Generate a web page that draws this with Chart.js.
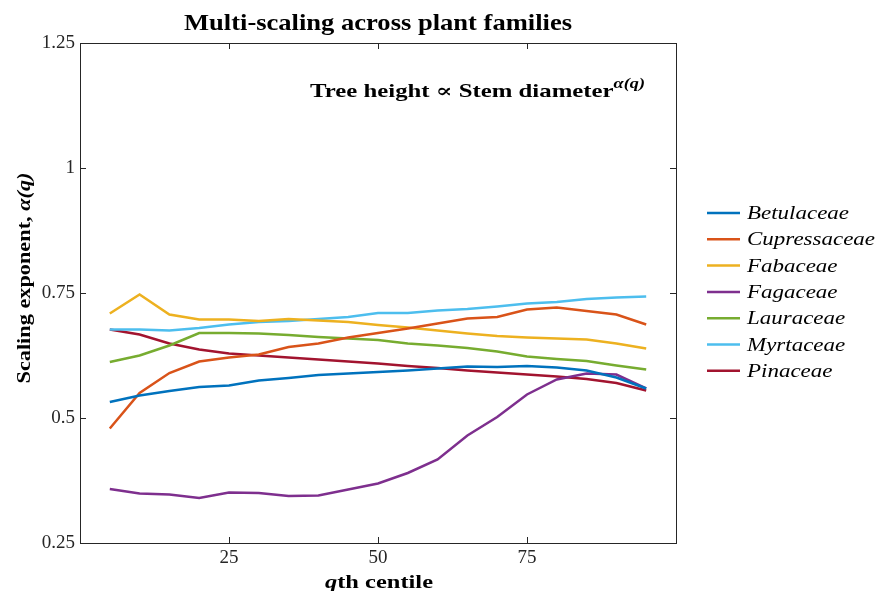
<!DOCTYPE html>
<html>
<head>
<meta charset="utf-8">
<script src="https://cdn.jsdelivr.net/npm/chart.js@4"></script>
<style>
  body { margin: 0; background: #fff; }
  canvas { display: block; }
</style>
</head>
<body>
<canvas id="grafica" width="877" height="591"></canvas>
<script>
// qth centile
const centiles = [5, 10, 15, 20, 25, 30, 35, 40, 45, 50, 55, 60, 65, 70, 75, 80, 85, 90, 95];

const betulaceae   = [0.532, 0.545, 0.554, 0.562, 0.565, 0.575, 0.580, 0.586, 0.589, 0.592, 0.595, 0.599, 0.603, 0.602, 0.604, 0.601, 0.595, 0.581, 0.559];
const cupressaceae = [0.479, 0.550, 0.590, 0.613, 0.621, 0.627, 0.642, 0.649, 0.661, 0.670, 0.679, 0.689, 0.699, 0.702, 0.717, 0.721, 0.714, 0.707, 0.687];
const fabaceae     = [0.709, 0.747, 0.707, 0.697, 0.697, 0.694, 0.698, 0.695, 0.692, 0.686, 0.681, 0.675, 0.669, 0.664, 0.661, 0.659, 0.657, 0.649, 0.639];
const fagaceae     = [0.358, 0.349, 0.347, 0.340, 0.351, 0.350, 0.344, 0.345, 0.357, 0.369, 0.390, 0.417, 0.465, 0.502, 0.547, 0.577, 0.589, 0.587, 0.559];
const lauraceae    = [0.612, 0.625, 0.645, 0.670, 0.670, 0.669, 0.666, 0.662, 0.659, 0.656, 0.649, 0.645, 0.640, 0.633, 0.623, 0.618, 0.614, 0.605, 0.597];
const myrtaceae    = [0.677, 0.677, 0.675, 0.680, 0.687, 0.692, 0.694, 0.698, 0.702, 0.710, 0.710, 0.715, 0.718, 0.723, 0.729, 0.732, 0.738, 0.741, 0.743];
const pinaceae     = [0.677, 0.667, 0.649, 0.637, 0.629, 0.625, 0.621, 0.617, 0.613, 0.609, 0.604, 0.600, 0.595, 0.591, 0.587, 0.583, 0.578, 0.570, 0.555];

const familias = ["Betulaceae", "Cupressaceae", "Fabaceae", "Fagaceae", "Lauraceae", "Myrtaceae", "Pinaceae"];
const series = [betulaceae, cupressaceae, fabaceae, fagaceae, lauraceae, myrtaceae, pinaceae];
const colores = ["#0072BD", "#D95319", "#EDB120", "#7E2F8E", "#77AC30", "#4DBEEE", "#A2142F"];

const xTicks = [25, 50, 75];
const yTicks = [0.25, 0.5, 0.75, 1, 1.25];

const SERIF = "'Liberation Serif', 'DejaVu Serif', serif";
const AXIS = "#262626";

// draws a row of text pieces with their own fonts, stretched to a given width
function drawPieces(ctx, pieces, x, y, align, width) {
    let total = 0;
    pieces.forEach(p => { ctx.font = p.font; total += ctx.measureText(p.text).width; });
    const sx = width ? width / total : 1;
    const w = total * sx;
    const x0 = align === "center" ? x - w / 2 : (align === "right" ? x - w : x);
    ctx.save();
    ctx.translate(x0, y);
    ctx.scale(sx, 1);
    ctx.textAlign = "left";
    let cx = 0;
    pieces.forEach(p => {
        ctx.font = p.font;
        ctx.fillText(p.text, cx, p.dy || 0);
        cx += ctx.measureText(p.text).width;
    });
    ctx.restore();
}

const decorado = {
    id: "decorado",
    afterDraw(chart) {
        const ctx = chart.ctx;
        const a = chart.chartArea;
        const xs = chart.scales.x, ys = chart.scales.y;
        ctx.save();

        // box
        ctx.strokeStyle = AXIS;
        ctx.lineWidth = 1;
        ctx.strokeRect(Math.round(a.left) + 0.5, Math.round(a.top) + 0.5,
                       Math.round(a.right - a.left), Math.round(a.bottom - a.top));

        // inward ticks on all four sides
        ctx.beginPath();
        xTicks.forEach(v => {
            const px = Math.round(xs.getPixelForValue(v)) + 0.5;
            ctx.moveTo(px, a.bottom); ctx.lineTo(px, a.bottom - 6);
            ctx.moveTo(px, a.top); ctx.lineTo(px, a.top + 6);
        });
        yTicks.forEach(v => {
            const py = Math.round(ys.getPixelForValue(v)) + 0.5;
            ctx.moveTo(a.left, py); ctx.lineTo(a.left + 6, py);
            ctx.moveTo(a.right, py); ctx.lineTo(a.right - 6, py);
        });
        ctx.stroke();

        ctx.fillStyle = "#000";
        ctx.textBaseline = "alphabetic";

        // title
        drawPieces(ctx, [{ text: "Multi-scaling across plant families", font: "bold 23px " + SERIF }],
                   (a.left + a.right) / 2, 30, "center", 388);

        // annotation
        drawPieces(ctx, [
            { text: "Tree height \u221D Stem diameter", font: "bold 19px " + SERIF },
            { text: "\u03B1(q)", font: "bold italic 14px " + SERIF, dy: -9 }
        ], 645, 97, "right", 335);

        // x label
        drawPieces(ctx, [
            { text: "q", font: "bold italic 19px " + SERIF },
            { text: "th centile", font: "bold 19px " + SERIF }
        ], 379, 588, "center", 108);

        // y label
        ctx.save();
        ctx.translate(30, 278);
        ctx.rotate(-Math.PI / 2);
        drawPieces(ctx, [
            { text: "Scaling exponent, ", font: "bold 19px " + SERIF },
            { text: "\u03B1(q)", font: "bold italic 19px " + SERIF }
        ], 0, 0, "center", 211);
        ctx.restore();

        // legend
        ctx.font = "italic 19px " + SERIF;
        const sx = 128 / ctx.measureText("Cupressaceae").width;
        familias.forEach((nombre, i) => {
            const y = 213 + i * 26.3;
            ctx.strokeStyle = colores[i];
            ctx.lineWidth = 2.5;
            ctx.beginPath();
            ctx.moveTo(707, y); ctx.lineTo(740, y);
            ctx.stroke();
            ctx.fillStyle = "#000";
            ctx.font = "italic 19px " + SERIF;
            const w = ctx.measureText(nombre).width * sx;
            drawPieces(ctx, [{ text: nombre, font: "italic 19px " + SERIF }], 747, y + 6, "left", w);
        });

        ctx.restore();
    }
};

const ctx = document.getElementById("grafica").getContext("2d");
new Chart(ctx, {
    type: "line",
    data: {
        datasets: familias.map((nombre, i) => ({
            label: nombre,
            data: centiles.map((q, j) => ({ x: q, y: series[i][j] })),
            borderColor: colores[i],
            backgroundColor: colores[i],
            borderWidth: 2.5,
            pointRadius: 0,
            tension: 0,
            fill: false
        }))
    },
    options: {
        responsive: false,
        animation: false,
        devicePixelRatio: 1,
        layout: { padding: { top: 43, right: 201, left: 0, bottom: 0 } },
        plugins: {
            legend: { display: false },
            title: { display: false },
            tooltip: { enabled: false }
        },
        scales: {
            x: {
                type: "linear",
                min: 0,
                max: 100,
                afterBuildTicks: scale => { scale.ticks = xTicks.map(v => ({ value: v })); },
                afterFit: scale => { scale.height = 48; },
                grid: { display: false, drawTicks: false },
                border: { display: false },
                ticks: { color: "#262626", font: { family: SERIF, size: 19 }, padding: 4, maxRotation: 0 }
            },
            y: {
                min: 0.25,
                max: 1.25,
                afterBuildTicks: scale => { scale.ticks = yTicks.map(v => ({ value: v })); },
                afterFit: scale => { scale.width = 80; },
                grid: { display: false, drawTicks: false },
                border: { display: false },
                ticks: { color: "#262626", font: { family: SERIF, size: 19 }, padding: 5,
                         callback: v => String(v) }
            }
        }
    },
    plugins: [decorado]
});
</script>
</body>
</html>
